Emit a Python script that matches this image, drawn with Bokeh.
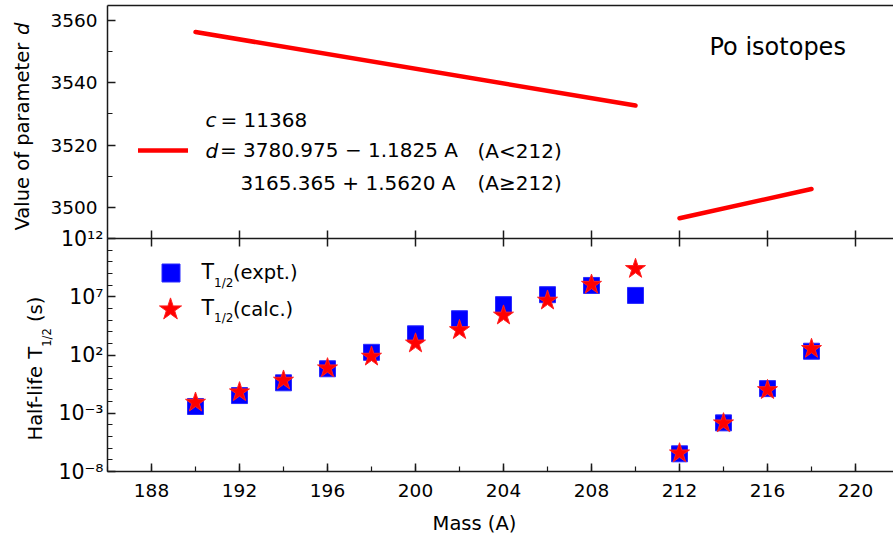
import math
from bokeh.plotting import figure
from bokeh.models import (Range1d, LinearAxis, FixedTicker, SingleIntervalTicker, Label,
                          Legend, LegendItem, LinearScale, CustomJSTickFormatter)
from bokeh.embed import file_html
from bokeh.resources import INLINE

# ---------------- data ----------------
mass = [190, 192, 194, 196, 198, 200, 202, 204, 206, 208, 210, 212, 214, 216, 218]
half_life_expt = [3.8e-3, 3.3e-2, 4.1e-1, 6.6e0, 1.7e2, 6.6e3, 1.3e5, 2.1e6, 1.5e7,
                  9.3e7, 1.3e7, 3.3e-7, 1.5e-4, 1.3e-1, 2.1e2]
half_life_calc = [8.3e-3, 6.5e-2, 6.5e-1, 7.4e0, 7.4e1, 1.0e3, 1.4e4, 2.5e5, 4.8e6,
                  1.1e8, 2.5e9, 3.7e-7, 1.4e-4, 1.0e-1, 3.4e2]
d_mass_below = [190, 210]
d_value_below = [3556.3, 3532.7]
d_mass_above = [212, 218]
d_value_above = [3496.5, 3505.9]
mass_tick_interval = 4
d_ticks = [3500, 3520, 3540, 3560]
d_minor_ticks = [3510, 3530, 3550]
log_tick_exponents = [-8, -3, 2, 7, 12]
log_minor_exponents = list(range(-8, 13))

# ---------------- layout (page pixels); the frame covers the whole canvas ----------------
W, H = 893, 540
FL, FR, FT, FB = 107, 893, 5, 471     # panel box
BOUND = 238                           # boundary between the two panels
PX_PER_A = 22.0
X0 = 186.0
X1 = X0 + (FR - FL) / PX_PER_A
PX_PER_DEC = (FB - BOUND) / 20.0
PX_PER_D = (238 - 20) / 70.0


def xd(px):
    return X0 + (px - FL) / PX_PER_A


def yl(py):
    return 10 ** (12 - (py - BOUND) / PX_PER_DEC)


def ydd(py):
    return 3490 + (BOUND - py) / PX_PER_D


FONT = "DejaVu Sans"
INK = "#1a1a1a"

CW = {"0": .636, "1": .636, "2": .636, "3": .636, "4": .636, "5": .636, "6": .636,
      "7": .636, "8": .636, "9": .636, "-": .361, " ": .318, "/": .337, "(": .390,
      ")": .390, "T": .611, "H": .752, "a": .613, "l": .278, "f": .352, "i": .278,
      "e": .615, "s": .521, "V": .684, "u": .634, "o": .612, "p": .635, "r": .411,
      "m": .974, "t": .392, "d": .635}


def tw(s, size):
    return sum(CW.get(c, .6) for c in s) * size


p = figure(width=W, height=H, x_range=Range1d(xd(0), xd(W)),
           y_range=Range1d(yl(H), yl(0)), y_axis_type="log",
           output_backend="svg", toolbar_location=None,
           min_border_left=0, min_border_right=0, min_border_top=0, min_border_bottom=0)
p.extra_y_ranges = {"d": Range1d(ydd(H), ydd(0))}
p.extra_y_scales = {"d": LinearScale()}
p.outline_line_color = None
p.xgrid.visible = False
p.ygrid.visible = False
p.background_fill_color = "white"
p.border_fill_color = "white"


def style_axis(ax):
    ax.axis_line_color = INK
    ax.axis_line_width = 1.5
    ax.major_tick_line_color = INK
    ax.major_tick_line_width = 1.5
    ax.minor_tick_line_color = INK
    ax.minor_tick_line_width = 1.2
    ax.major_label_text_font = FONT
    ax.major_label_text_color = "black"


# bottom x axis
xa = p.xaxis[0]
style_axis(xa)
xa.fixed_location = 1e-8
xa.bounds = (X0, X1)
xa.ticker = SingleIntervalTicker(interval=mass_tick_interval, num_minor_ticks=2)
xa.major_tick_in = 8
xa.major_tick_out = 0
xa.minor_tick_in = 5
xa.minor_tick_out = 0
xa.major_label_text_font_size = "18.5px"
xa.major_label_standoff = 12

# left log axis (lower panel)
ya = p.yaxis[0]
style_axis(ya)
ya.fixed_location = X0
ya.bounds = (1e-8, 1e12)
ya.ticker = FixedTicker(ticks=[10.0 ** e for e in log_tick_exponents],
                        minor_ticks=[10.0 ** e for e in log_minor_exponents])
ya.formatter = CustomJSTickFormatter(code="""
const sup = {"-": "\u207b", "0": "\u2070", "1": "\u00b9", "2": "\u00b2", "3": "\u00b3",
             "4": "\u2074", "5": "\u2075", "6": "\u2076", "7": "\u2077", "8": "\u2078",
             "9": "\u2079"};
const e = Math.round(Math.log10(tick));
return "10" + String(e).split("").map(c => sup[c]).join("");
""")
ya.major_tick_in = 8
ya.major_tick_out = 0
ya.minor_tick_in = 5
ya.minor_tick_out = 0
ya.major_label_text_font_size = "20.5px"
ya.major_label_standoff = 4

# left linear axis (upper panel)
da = LinearAxis(y_range_name="d", fixed_location=X0, bounds=(3490, ydd(FT)),
                ticker=FixedTicker(ticks=d_ticks, minor_ticks=d_minor_ticks))
style_axis(da)
da.major_tick_in = 8
da.major_tick_out = 0
da.minor_tick_in = 5
da.minor_tick_out = 0
da.major_label_text_font_size = "18.5px"
da.major_label_standoff = 10
p.add_layout(da, "left")

# boundary between the panels (ticks both ways, no labels)
ba = LinearAxis(fixed_location=1e12, bounds=(X0, X1),
                ticker=SingleIntervalTicker(interval=mass_tick_interval, num_minor_ticks=0))
style_axis(ba)
ba.major_tick_in = 8
ba.major_tick_out = 8
ba.minor_tick_in = 0
ba.minor_tick_out = 0
ba.major_label_text_color = None
p.add_layout(ba, "below")

# top border line
ta = LinearAxis(fixed_location=yl(FT), bounds=(X0, X1), ticker=FixedTicker(ticks=[X0]))
style_axis(ta)
ta.major_tick_in = 0
ta.major_tick_out = 0
ta.minor_tick_in = 0
ta.minor_tick_out = 0
ta.major_label_text_color = None
p.add_layout(ta, "below")

# ---------------- glyphs ----------------
r_low = p.line(d_mass_below, d_value_below, y_range_name="d", line_color="#ff0000",
               line_width=4.5, line_cap="round")
r_high = p.line(d_mass_above, d_value_above, y_range_name="d", line_color="#ff0000",
                line_width=4.5, line_cap="round")
r_sq = p.scatter(mass, half_life_expt, marker="square", size=16, fill_color="#0000ff",
                 line_color="#2a2aff", line_width=1)
r_st = p.scatter(mass, half_life_calc, marker="star", size=21, fill_color="#ff0000",
                 line_color="#ff2020", line_width=1)


# ---------------- legends ----------------
def make_legend(label, renderer, left, top, gw, gh, standoff, size):
    leg = Legend(items=[LegendItem(label=label, renderers=[renderer])],
                 location=(left, H - (top + gh)), glyph_width=gw, glyph_height=gh,
                 label_standoff=standoff, padding=0, margin=0, spacing=0,
                 border_line_color=None, background_fill_alpha=0,
                 label_text_font=FONT, label_text_font_size=size,
                 label_text_color="black", label_height=gh)
    p.add_layout(leg)
    return leg


make_legend("(expt.)", r_sq, 148, 250, 45, 45, 40, "19.5px")
make_legend("(calc.)", r_st, 141, 280, 58, 58, 34, "19.5px")
make_legend("= 3780.975 \u2212 1.1825 A", r_low, 138, 141.5, 50, 20, 32, "20px")


# ---------------- texts ----------------
BASE_SHIFT = 0.37   # the rendered alphabetic baseline sits this many em lower


def lab(text, px, py, size=20.0, align="left", style="normal", angle=0.0):
    if angle == 0.0:
        py = py - BASE_SHIFT * size
    else:
        px = px - BASE_SHIFT * size
    p.add_layout(Label(x=xd(px), y=yl(py), text=text, text_font=FONT,
                       text_font_size=f"{size}px", text_font_style=style, text_align=align,
                       text_baseline="alphabetic", text_color="black", angle=angle))


# upper panel texts
lab("Po isotopes", 709, 55.5, size=24)
lab("c", 205, 127, style="italic")
lab("= 11368", 220, 127)
lab("d", 205, 158.3, style="italic")
lab("(A<212)", 477, 158.3)
lab("3165.365 + 1.5620 A", 240, 190)
lab("(A\u2265212)", 477, 190)

# subscripted prefixes of the lower-panel legend
for base in (279.5, 315.0):
    lab("T", 201, base, size=20.5)
    lab("1/2", 201 + tw("T", 20.5), base + 7, size=12)

# x-axis title
lab("Mass (A)", 474, 530, size=19.5, align="center")

# rotated y-axis titles
A90 = math.pi / 2
s1 = "Value of parameter "
lab(s1, 29, 230, size=19.5, angle=A90)
lab("d", 29, 230 - tw(s1, 19.5), size=19.5, style="italic", angle=A90)

s2 = "Half-life "
y_t = 440 - tw(s2, 19.5)
lab(s2, 42, 440, size=19.5, angle=A90)
lab("T", 42, y_t, size=19.5, angle=A90)
y_sub = y_t - tw("T", 19.5)
lab("1/2", 51, y_sub, size=11.5, angle=A90)
lab("(s)", 42, y_sub - tw("1/2", 11.5) - tw(" ", 19.5), size=19.5, angle=A90)

open("out.html", "w").write(file_html(p, INLINE))
